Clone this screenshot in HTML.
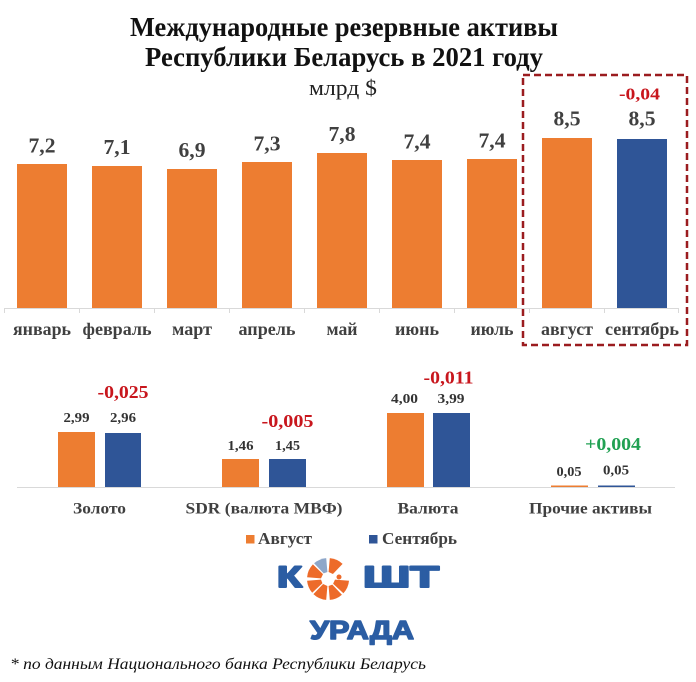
<!DOCTYPE html>
<html>
<head>
<meta charset="utf-8">
<style>
html,body{margin:0;padding:0;background:#fff;}
svg{display:block;}
text{font-family:"Liberation Serif","Noto Serif CJK SC",serif;}
</style>
</head>
<body>
<svg width="696" height="682" viewBox="0 0 696 682" xmlns="http://www.w3.org/2000/svg">
<rect width="696" height="682" fill="#fff"/>

<!-- Title -->
<text x="130" y="36" font-size="27" font-weight="bold" fill="#111" textLength="428" lengthAdjust="spacingAndGlyphs">Международные резервные активы</text>
<text x="145" y="66" font-size="27" font-weight="bold" fill="#111" textLength="398" lengthAdjust="spacingAndGlyphs">Республики Беларусь в 2021 году</text>
<text x="309" y="95" font-size="22" fill="#222" textLength="68" lengthAdjust="spacingAndGlyphs">млрд $</text>

<!-- Top chart bars -->
<g fill="#ED7D31">
<rect x="17" y="164" width="50" height="144"/>
<rect x="92" y="166" width="50" height="142"/>
<rect x="167" y="169" width="50" height="139"/>
<rect x="242" y="162" width="50" height="146"/>
<rect x="317" y="153" width="50" height="155"/>
<rect x="392" y="160" width="50" height="148"/>
<rect x="467" y="159" width="50" height="149"/>
<rect x="542" y="138" width="50" height="170"/>
</g>
<rect x="617" y="139" width="50" height="169" fill="#2F5597"/>

<!-- axis -->
<g stroke="#D9D9D9" stroke-width="1">
<line x1="4" y1="308.5" x2="679" y2="308.5"/>
<line x1="4.5" y1="308" x2="4.5" y2="313"/>
<line x1="79.5" y1="308" x2="79.5" y2="313"/>
<line x1="154.5" y1="308" x2="154.5" y2="313"/>
<line x1="229.5" y1="308" x2="229.5" y2="313"/>
<line x1="304.5" y1="308" x2="304.5" y2="313"/>
<line x1="379.5" y1="308" x2="379.5" y2="313"/>
<line x1="454.5" y1="308" x2="454.5" y2="313"/>
<line x1="529.5" y1="308" x2="529.5" y2="313"/>
<line x1="604.5" y1="308" x2="604.5" y2="313"/>
<line x1="678.5" y1="308" x2="678.5" y2="313"/>
</g>

<!-- value labels -->
<g font-size="21" font-weight="bold" fill="#404040" text-anchor="middle">
<text x="42" y="152.5" textLength="27" lengthAdjust="spacingAndGlyphs">7,2</text>
<text x="117" y="154" textLength="27" lengthAdjust="spacingAndGlyphs">7,1</text>
<text x="192" y="157" textLength="27" lengthAdjust="spacingAndGlyphs">6,9</text>
<text x="267" y="150.5" textLength="27" lengthAdjust="spacingAndGlyphs">7,3</text>
<text x="342" y="141" textLength="27" lengthAdjust="spacingAndGlyphs">7,8</text>
<text x="417" y="148.5" textLength="27" lengthAdjust="spacingAndGlyphs">7,4</text>
<text x="492" y="147.5" textLength="27" lengthAdjust="spacingAndGlyphs">7,4</text>
<text x="567" y="125.5" textLength="27" lengthAdjust="spacingAndGlyphs">8,5</text>
<text x="642" y="125.5" textLength="27" lengthAdjust="spacingAndGlyphs">8,5</text>
</g>
<text x="639.5" y="99.5" font-size="17" font-weight="bold" fill="#C8161D" text-anchor="middle" textLength="41" lengthAdjust="spacingAndGlyphs">-0,04</text>

<!-- month labels -->
<g font-size="18" font-weight="bold" fill="#404040" text-anchor="middle">
<text x="42" y="335" textLength="58" lengthAdjust="spacingAndGlyphs">январь</text>
<text x="117" y="335" textLength="69" lengthAdjust="spacingAndGlyphs">февраль</text>
<text x="192" y="335" textLength="40" lengthAdjust="spacingAndGlyphs">март</text>
<text x="267" y="335" textLength="57" lengthAdjust="spacingAndGlyphs">апрель</text>
<text x="342" y="335" textLength="31" lengthAdjust="spacingAndGlyphs">май</text>
<text x="417" y="335" textLength="44" lengthAdjust="spacingAndGlyphs">июнь</text>
<text x="492" y="335" textLength="43" lengthAdjust="spacingAndGlyphs">июль</text>
<text x="567" y="335" textLength="52" lengthAdjust="spacingAndGlyphs">август</text>
<text x="642" y="335" textLength="74" lengthAdjust="spacingAndGlyphs">сентябрь</text>
</g>

<!-- dashed box -->
<rect x="523" y="75" width="164" height="270" fill="none" stroke="#9B1C1F" stroke-width="2.5" stroke-dasharray="7 4"/>

<!-- Bottom chart -->
<line x1="17" y1="487.5" x2="675" y2="487.5" stroke="#D9D9D9" stroke-width="1"/>
<g fill="#ED7D31">
<rect x="58" y="432" width="37" height="55"/>
<rect x="222" y="459" width="37" height="28"/>
<rect x="387" y="413" width="37" height="74"/>
<rect x="551" y="485.5" width="37" height="1.5"/>
</g>
<g fill="#2F5597">
<rect x="105" y="433" width="36" height="54"/>
<rect x="269" y="459" width="37" height="28"/>
<rect x="433" y="413" width="37" height="74"/>
<rect x="598" y="485.5" width="37" height="1.5"/>
</g>

<g font-size="14" font-weight="bold" fill="#333" text-anchor="middle">
<text x="76.5" y="422" textLength="26" lengthAdjust="spacingAndGlyphs">2,99</text>
<text x="123" y="422" textLength="26" lengthAdjust="spacingAndGlyphs">2,96</text>
<text x="240.5" y="450" textLength="26" lengthAdjust="spacingAndGlyphs">1,46</text>
<text x="287.5" y="450" textLength="25" lengthAdjust="spacingAndGlyphs">1,45</text>
<text x="404.5" y="403" textLength="27" lengthAdjust="spacingAndGlyphs">4,00</text>
<text x="451" y="403" textLength="27" lengthAdjust="spacingAndGlyphs">3,99</text>
<text x="569" y="476" textLength="25" lengthAdjust="spacingAndGlyphs">0,05</text>
<text x="616" y="474.5" textLength="26" lengthAdjust="spacingAndGlyphs">0,05</text>
</g>

<g font-size="18" font-weight="bold" text-anchor="middle">
<text x="123" y="398" fill="#C8161D" textLength="51" lengthAdjust="spacingAndGlyphs">-0,025</text>
<text x="287.5" y="427" fill="#C8161D" textLength="52" lengthAdjust="spacingAndGlyphs">-0,005</text>
<text x="448.5" y="383.5" fill="#C8161D" textLength="50" lengthAdjust="spacingAndGlyphs">-0,011</text>
<text x="613" y="450" fill="#21A153" textLength="56" lengthAdjust="spacingAndGlyphs">+0,004</text>
</g>

<g font-size="16" font-weight="bold" fill="#404040" text-anchor="middle">
<text x="99.5" y="513.5" textLength="53" lengthAdjust="spacingAndGlyphs">Золото</text>
<text x="264" y="513.5" textLength="157" lengthAdjust="spacingAndGlyphs">SDR (валюта МВФ)</text>
<text x="428" y="513.5" textLength="61" lengthAdjust="spacingAndGlyphs">Валюта</text>
<text x="590.5" y="513.5" textLength="123" lengthAdjust="spacingAndGlyphs">Прочие активы</text>
</g>

<!-- legend -->
<rect x="246" y="535" width="8.5" height="8.5" fill="#ED7D31"/>
<text x="258" y="544" font-size="17" font-weight="bold" fill="#404040" textLength="54" lengthAdjust="spacingAndGlyphs">Август</text>
<rect x="369" y="535" width="8.5" height="8.5" fill="#2F5597"/>
<text x="382" y="544" font-size="17" font-weight="bold" fill="#404040" textLength="75" lengthAdjust="spacingAndGlyphs">Сентябрь</text>

<!-- Logo -->
<g>
<text x="277" y="587" font-size="30" font-weight="bold" fill="#2B5DA3" stroke="#2B5DA3" stroke-width="2" stroke-linejoin="round" style="font-family:'Liberation Sans',sans-serif" textLength="25" lengthAdjust="spacingAndGlyphs">К</text>
<text x="363" y="587" font-size="30" font-weight="bold" fill="#2B5DA3" stroke="#2B5DA3" stroke-width="2" stroke-linejoin="round" style="font-family:'Liberation Sans',sans-serif" textLength="76" lengthAdjust="spacingAndGlyphs">ШТ</text>
<text x="310" y="639" font-size="26" font-weight="bold" fill="#2B5DA3" stroke="#2B5DA3" stroke-width="1.5" stroke-linejoin="round" style="font-family:'Liberation Sans',sans-serif" textLength="104" lengthAdjust="spacingAndGlyphs">УРАДА</text>
</g>
<g transform="translate(328,579)">
<path d="M7,0.6 L21,1.8 A21,21 0 0 1 15.4,14.3 L5.1,4.8 Z" fill="#ED6B2A"/>
<path d="M4.3,5.6 L13.9,15.7 A21,21 0 0 1 1.8,20.9 L0.6,7 Z" fill="#ED6B2A"/>
<path d="M-0.6,7 L-1.8,20.9 A21,21 0 0 1 -14.6,15.1 L-4.9,5 Z" fill="#ED6B2A"/>
<path d="M-5.6,4.3 L-15.8,13.8 A21,21 0 0 1 -20.9,1.8 L-7,0.6 Z" fill="#ED6B2A"/>
<path d="M-7,-0.6 L-20.9,-1.8 A21,21 0 0 1 -15.1,-14.6 L-5,-4.9 Z" fill="#ED6B2A"/>
<path d="M-4.3,-5.6 L-13.9,-15.7 A21,21 0 0 1 -1.8,-20.9 L-0.6,-7 Z" fill="#8EA7C9"/>
<path d="M0.6,-7 L1.8,-20.9 A21,21 0 0 1 14.6,-15.1 L4.9,-5 Z" fill="#ED6B2A"/>
<circle cx="11" cy="-2" r="2.5" fill="#ED6B2A"/>
</g>

<!-- footnote -->
<text x="10" y="669" font-size="16" font-style="italic" fill="#111" textLength="416" lengthAdjust="spacingAndGlyphs">* по данным Национального банка Республики Беларусь</text>
</svg>
</body>
</html>
